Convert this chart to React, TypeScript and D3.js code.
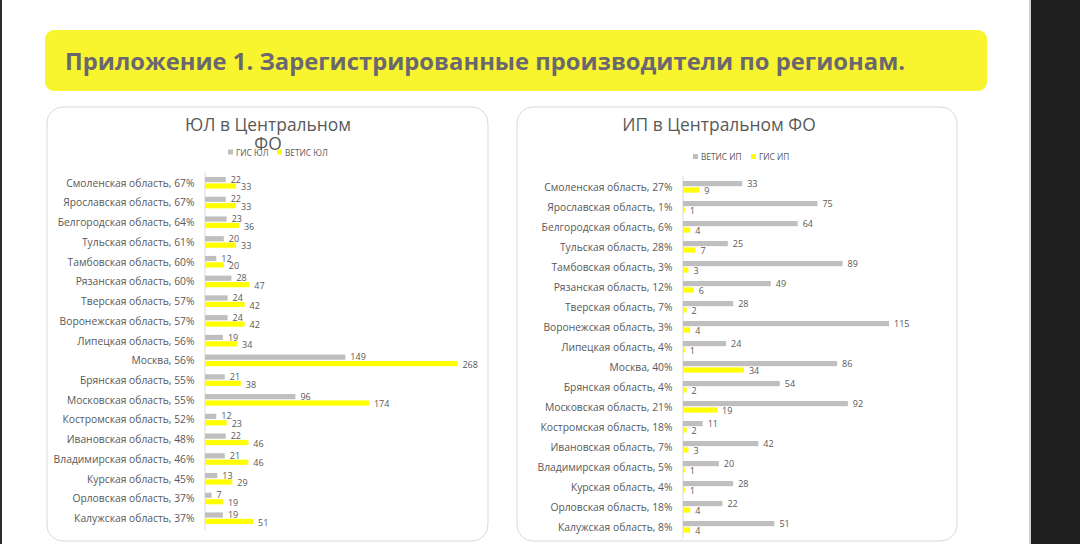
import * as d3 from "d3";

const W = 1080;
const H = 544;

const regions = [
  "Смоленская область",
  "Ярославская область",
  "Белгородская область",
  "Тульская область",
  "Тамбовская область",
  "Рязанская область",
  "Тверская область",
  "Воронежская область",
  "Липецкая область",
  "Москва",
  "Брянская область",
  "Московская область",
  "Костромская область",
  "Ивановская область",
  "Владимирская область",
  "Курская область",
  "Орловская область",
  "Калужская область",
];

// ЮЛ
const pctUL = [67, 67, 64, 61, 60, 60, 57, 57, 56, 56, 55, 55, 52, 48, 46, 45, 37, 37];
const gisUL = [22, 22, 23, 20, 12, 28, 24, 24, 19, 149, 21, 96, 12, 22, 21, 13, 7, 19];
const vetisUL = [33, 33, 36, 33, 20, 47, 42, 42, 34, 268, 38, 174, 23, 46, 46, 29, 19, 51];

// ИП
const pctIP = [27, 1, 6, 28, 3, 12, 7, 3, 4, 40, 4, 21, 18, 7, 5, 4, 18, 8];
const vetisIP = [33, 75, 64, 25, 89, 49, 28, 115, 24, 86, 54, 92, 11, 42, 20, 28, 22, 51];
const gisIP = [9, 1, 4, 7, 3, 6, 2, 4, 1, 34, 2, 19, 2, 3, 1, 1, 4, 4];

const GRAY = "#bfbfbf";
const YELLOW = "#ffff00";
const TEXT = "#595959";
const FONT = "'Open Sans', 'Noto Sans', sans-serif";

type PanelProps = {
  px: number;
  pw: number;
  titleLines: string[];
  titleCx: number;
  legend: { label: string; color: string; x: number }[];
  legendY: number;
  pcts: number[];
  first: number[];
  second: number[];
  axisX: number;
  maxVal: number;
  pxPerUnit: number;
  rowTop: number;
  rowBottom: number;
};

const Panel = (p: PanelProps) => {
  const labels = regions.map((r, i) => `${r}, ${p.pcts[i]}%`);
  const x = d3
    .scaleLinear()
    .domain([0, p.maxVal])
    .range([p.axisX, p.axisX + p.maxVal * p.pxPerUnit]);
  const y = d3.scaleBand<string>().domain(labels).range([p.rowTop, p.rowBottom]);
  const barH = 5.2;
  return (
    <g>
      <rect
        x={p.px}
        y={107}
        width={p.pw}
        height={434}
        rx={16}
        fill="#fff"
        stroke="#d9d9d9"
        strokeWidth={1}
      />
      {p.titleLines.map((t, i) => (
        <text
          key={t}
          x={p.titleCx}
          y={131 + i * 19}
          textAnchor="middle"
          fontSize={17.4}
          fill={TEXT}
          fontFamily={FONT}
        >
          {t}
        </text>
      ))}
      {p.legend.map((l) => (
        <g key={l.label}>
          <rect x={l.x} y={p.legendY - 2.5} width={5} height={5} fill={l.color} />
          <text
            x={l.x + 8}
            y={p.legendY}
            dominantBaseline="central"
            fontSize={8.3}
            fill={TEXT}
            fontFamily={FONT}
          >
            {l.label}
          </text>
        </g>
      ))}
      <line
        x1={p.axisX}
        x2={p.axisX}
        y1={p.rowTop - 1}
        y2={p.rowBottom + 2}
        stroke="#d9d9d9"
        strokeWidth={1}
      />
      {labels.map((lab, i) => {
        const c = (y(lab) ?? 0) + y.bandwidth() / 2;
        const v1 = p.first[i];
        const v2 = p.second[i];
        return (
          <g key={lab}>
            <text
              x={p.axisX - 10.5}
              y={c}
              textAnchor="end"
              dominantBaseline="central"
              fontSize={10.3}
              fill={TEXT}
              fontFamily={FONT}
            >
              {lab}
            </text>
            <rect
              x={x(0)}
              y={c - 0.5 - barH}
              width={x(v1) - x(0)}
              height={barH}
              fill={GRAY}
            />
            <rect x={x(0)} y={c + 0.7} width={x(v2) - x(0)} height={barH} fill={YELLOW} />
            <text
              x={x(v1) + 5}
              y={c - 3.5}
              dominantBaseline="central"
              fontSize={9}
              fill={TEXT}
              fontFamily={FONT}
            >
              {v1}
            </text>
            <text
              x={x(v2) + 5}
              y={c + 4}
              dominantBaseline="central"
              fontSize={9}
              fill={TEXT}
              fontFamily={FONT}
            >
              {v2}
            </text>
          </g>
        );
      })}
    </g>
  );
};

export default function App() {
  return (
    <div style={{ position: "absolute", left: 0, top: 0 }}>
      <svg width={W} height={H} style={{ display: "block" }}>
        <rect width={W} height={H} fill="#fff" />
        <rect x={0} y={0} width={2} height={H} fill="#2b2b2b" />
        <rect x={1029} y={0} width={2} height={H} fill="#d0d0d0" />
        <rect x={1031} y={0} width={49} height={H} fill="#1e1e1e" />
        <rect x={45} y={30} width={942} height={61} rx={9} fill="#f8f52f" />
        <text
          x={65}
          y={70}
          fontSize={24}
          fontWeight={700}
          fill="#6b6770"
          fontFamily={FONT}
          textLength={840}
          lengthAdjust="spacingAndGlyphs"
        >
          Приложение 1. Зарегистрированные производители по регионам.
        </text>
        <Panel
          px={47}
          pw={441}
          titleLines={["ЮЛ в Центральном", "ФО"]}
          titleCx={268}
          legend={[
            { label: "ГИС ЮЛ", color: GRAY, x: 228 },
            { label: "ВЕТИС ЮЛ", color: YELLOW, x: 277 },
          ]}
          legendY={152}
          pcts={pctUL}
          first={gisUL}
          second={vetisUL}
          axisX={205}
          maxVal={280}
          pxPerUnit={0.942}
          rowTop={172.8}
          rowBottom={528}
        />
        <Panel
          px={517}
          pw={440}
          titleLines={["ИП в Центральном ФО"]}
          titleCx={719}
          legend={[
            { label: "ВЕТИС ИП", color: GRAY, x: 693 },
            { label: "ГИС ИП", color: YELLOW, x: 751 },
          ]}
          legendY={156.5}
          pcts={pctIP}
          first={vetisIP}
          second={gisIP}
          axisX={683}
          maxVal={140}
          pxPerUnit={1.792}
          rowTop={176.7}
          rowBottom={536.7}
        />
      </svg>
    </div>
  );
}
